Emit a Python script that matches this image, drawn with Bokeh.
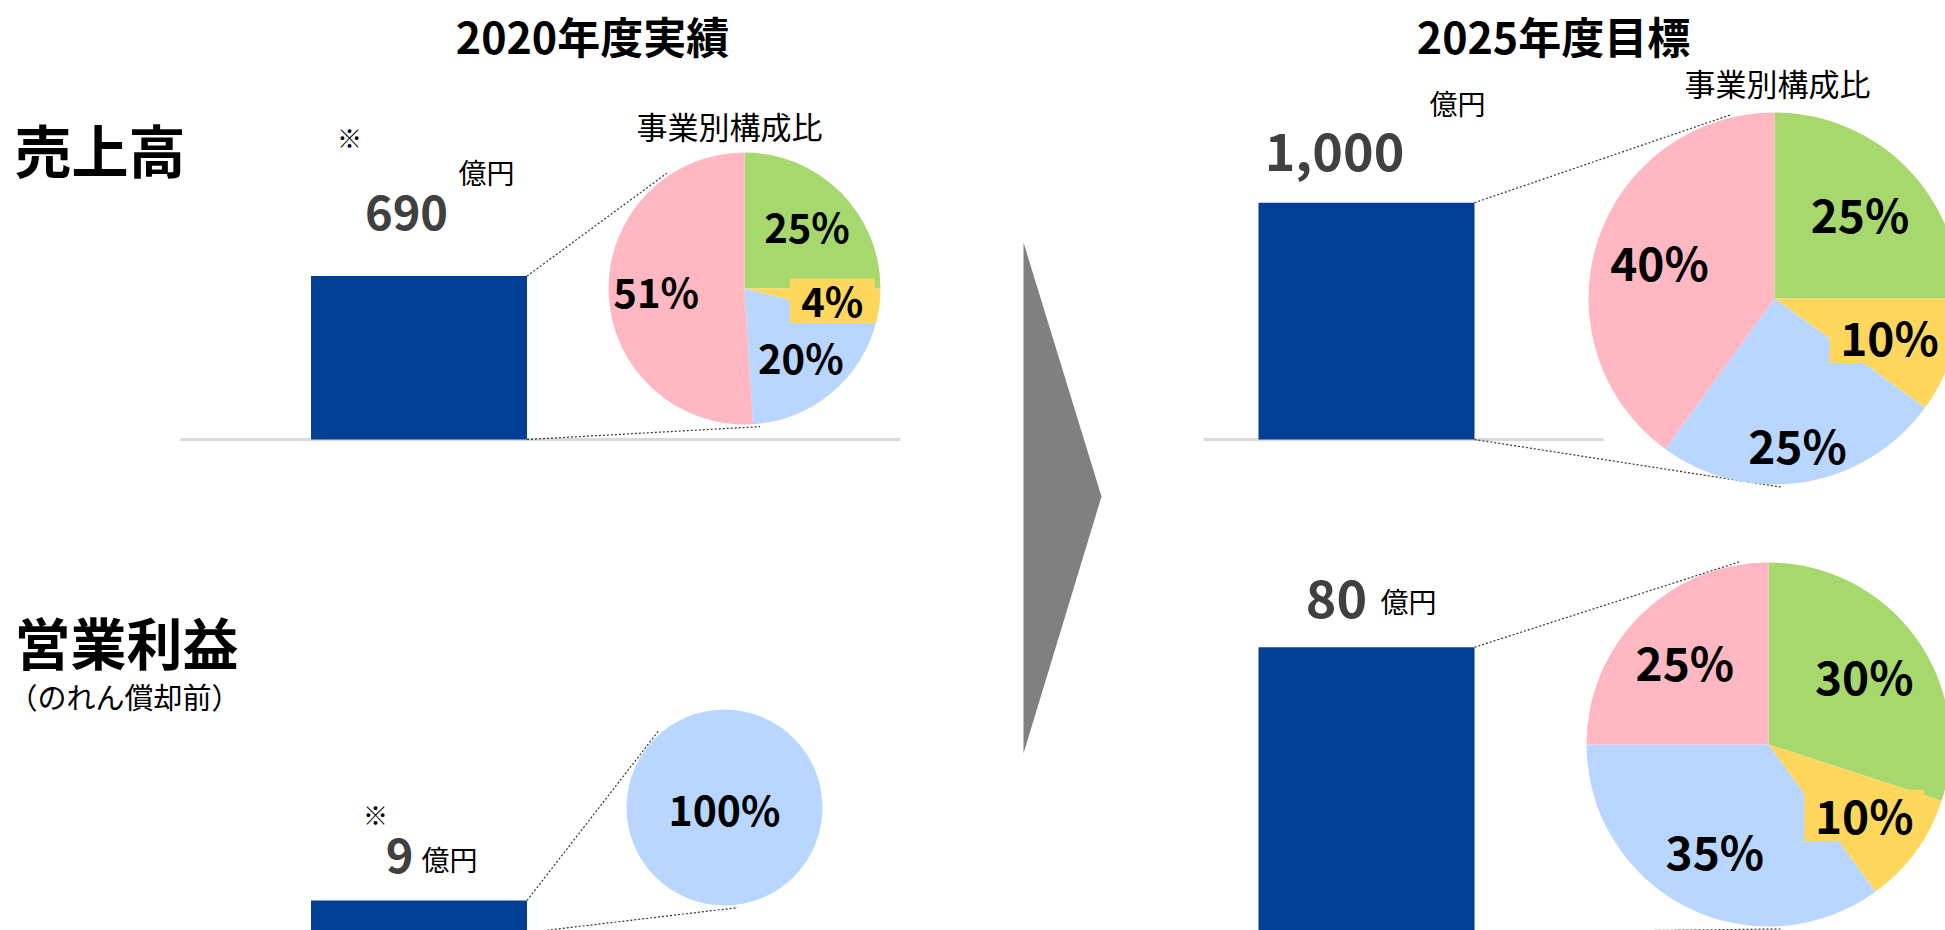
import math
from bokeh.plotting import figure
from bokeh.models import Range1d
from bokeh.core.properties import value
from bokeh.embed import file_html
from bokeh.resources import INLINE

# ---------------- data ----------------
period_titles = ["2020年度実績", "2025年度目標"]
metric_titles = ["売上高", "営業利益"]
metric_note = "（のれん償却前）"
unit_label = "億円"
note_mark = "※"
mix_title = "事業別構成比"

sales_values = [690, 1000]
sales_labels = ["690", "1,000"]
op_values = [9, 80]
op_labels = ["9", "80"]

# business segment shares, clockwise from 12 o'clock (green, yellow, blue, pink)
sales_mix_2020 = [25, 4, 20, 51]
sales_mix_2025 = [25, 10, 25, 40]
op_mix_2020 = [0, 0, 100, 0]
op_mix_2025 = [30, 10, 35, 25]

# ---------------- styles / layout ----------------
FONT = "Noto Sans CJK JP"
BAR = "#003F95"
SEG_COLORS = ["#A6D86E", "#FFD75C", "#B8D6FF", "#FFB8C1"]
VALUE_COLOR = "#404040"
W, H = 1945, 930


def U(ry):
    """reference pixel row (downwards) -> plot up-coordinate"""
    return H - ry


# bar scales: value -> reference pixel row
S_BASE, S_PX = 439.0, 0.2368
O_BASE, O_PX = 932.1, 3.567

p = figure(width=W, height=H, x_range=Range1d(0, W), y_range=Range1d(0, H),
           output_backend="svg", toolbar_location=None,
           x_axis_location=None, y_axis_location=None, min_border=0,
           outline_line_color=None, background_fill_color="white",
           border_fill_color="white")
p.grid.visible = False
p.extra_y_ranges = {
    "sales": Range1d((0 - U(S_BASE)) / S_PX, (H - U(S_BASE)) / S_PX),
    "op": Range1d((0 - U(O_BASE)) / O_PX, (H - U(O_BASE)) / O_PX),
}

bar_x = [418.5, 1366.0]
bar_w = 216

# baselines for sales bars
p.segment(x0=[180, 1203], x1=[900, 1603], y0=[0, 0], y1=[0, 0],
          y_range_name="sales", line_color="#D9D9D9", line_width=3)

# pies: center x, center ref-y, radius, shares, label fractions, font size
pies = [
    dict(cx=744, cy=288, r=136, mix=sales_mix_2020, f=[0.65, 0.65, 0.65, 0.65], fs=40,
         top_ang=124, bot_ang=-83.6, bar=(0, "sales")),
    dict(cx=1774, cy=298, r=186, mix=sales_mix_2025, f=[0.65, 0.65, 0.79, 0.65], fs=46,
         top_ang=103, bot_ang=-87.5, bar=(1, "sales")),
    dict(cx=724, cy=807, r=98, mix=op_mix_2020, f=[0.65, 0.65, 0.0, 0.65], fs=41,
         top_ang=131, bot_ang=-82.4, bar=(0, "op")),
    dict(cx=1768, cy=744, r=182, mix=op_mix_2025, f=[0.65, 0.65, 0.65, 0.65], fs=46,
         top_ang=99, bot_ang=-85.6, bar=(1, "op")),
]

# connectors (dotted) from bar corners to pie edges
for pie in pies:
    i, rng = pie["bar"]
    if rng == "sales":
        top_ry = S_BASE - S_PX * sales_values[i]
        base_ry = S_BASE
    else:
        top_ry = O_BASE - O_PX * op_values[i]
        base_ry = O_BASE
    xr = bar_x[i] + bar_w / 2
    cx, cy, r = pie["cx"], U(pie["cy"]), pie["r"] + 3
    ta, ba = math.radians(pie["top_ang"]), math.radians(pie["bot_ang"])
    p.segment(x0=[xr, xr], y0=[U(top_ry), U(base_ry)],
              x1=[cx + r * math.cos(ta), cx + r * math.cos(ba)],
              y1=[cy + r * math.sin(ta), cy + r * math.sin(ba)],
              line_color="#333333", line_width=1.2, line_dash="2 2")

# bars
p.vbar(x=bar_x, top=sales_values, bottom=0, width=bar_w, y_range_name="sales",
       fill_color=BAR, line_color=None)
p.vbar(x=bar_x, top=op_values, bottom=0, width=bar_w, y_range_name="op",
       fill_color=BAR, line_color=None)

# pies + labels
for pie in pies:
    cx, cy, r = pie["cx"], U(pie["cy"]), pie["r"]
    fs = pie["fs"]
    cum = 0
    labels = []
    for k, v in enumerate(pie["mix"]):
        if v <= 0:
            continue
        a0 = 90 - 3.6 * cum
        a1 = 90 - 3.6 * (cum + v)
        cum += v
        if v >= 100:
            p.circle(x=[cx], y=[cy], radius=r, fill_color=SEG_COLORS[k], line_color=None)
        else:
            p.wedge(x=[cx], y=[cy], radius=r, start_angle=a0, end_angle=a1,
                    start_angle_units="deg", end_angle_units="deg", direction="clock",
                    fill_color=SEG_COLORS[k], line_color=None)
        mid = math.radians((a0 + a1) / 2)
        fr = pie["f"][k]
        labels.append((k, v, cx + fr * r * math.cos(mid), cy + fr * r * math.sin(mid)))
    for k, v, lx, ly in labels:
        s = f"{v}%"
        if k == 1:
            tw = fs * (0.57 * (len(s) - 1) + 0.9)
            p.rect(x=[lx], y=[ly - 0.03 * fs], width=tw + 26, height=fs * 1.12,
                   fill_color=SEG_COLORS[1], line_color=None)
        p.text(x=[lx], y=[ly], text=[s], text_font=value(FONT), text_font_style="bold",
               text_font_size=f"{fs}px", text_color="#000000",
               text_align="center", text_baseline="middle")

# triangle arrow
p.patch(x=[1023, 1101, 1023], y=[U(242), U(496), U(753)], fill_color="#808080", line_color=None)


def txt(x, ry, s, size, bold=False, color="#000000", align="center"):
    p.text(x=[x], y=[U(ry)], text=[s], text_font=value(FONT),
           text_font_style="bold" if bold else "normal", text_font_size=f"{size}px",
           text_color=color, text_align=align, text_baseline="middle")


# titles
txt(592, 34, period_titles[0], 43, bold=True)
txt(1553, 34, period_titles[1], 43, bold=True)
txt(14, 147, metric_titles[0], 57, bold=True, align="left")
txt(14, 640, metric_titles[1], 56, bold=True, align="left")
txt(8, 695, metric_note, 29, align="left")
txt(729, 125, mix_title, 31)
txt(1777, 82, mix_title, 31)

# value labels
txt(406, 212, sales_labels[0], 47, bold=True, color=VALUE_COLOR)
txt(1334, 151, sales_labels[1], 52, bold=True, color=VALUE_COLOR)
txt(399, 855, op_labels[0], 47, bold=True, color=VALUE_COLOR)
txt(1336, 598, op_labels[1], 52, bold=True, color=VALUE_COLOR)
txt(486, 171, unit_label, 28)
txt(1457, 102, unit_label, 28)
txt(449, 858, unit_label, 28)
txt(1408, 600, unit_label, 28)
txt(349, 136, note_mark, 25)
txt(375, 813, note_mark, 25)

open("out.html", "w").write(file_html(p, INLINE))
